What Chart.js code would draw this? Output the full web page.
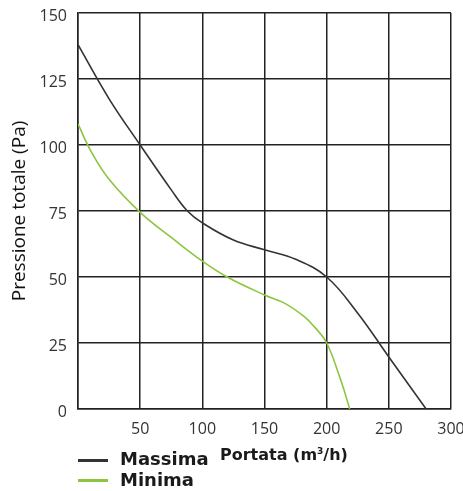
<!DOCTYPE html>
<html>
<head>
<meta charset="utf-8">
<script src="https://cdn.jsdelivr.net/npm/chart.js@4"></script>
<style>
body { margin: 0; background: #fff; }
#wrap { position: relative; width: 463px; height: 491px; overflow: hidden; }
.xtitle { position: absolute; left: 220px; top: 447px; font: bold 16px 'DejaVu Sans', sans-serif; line-height: 16px; color: #1a1a1a; white-space: nowrap; }
.xtitle sup { font-size: 9px; vertical-align: 6px; line-height: 0; }
.leg { position: absolute; left: 120px; font: bold 18px 'DejaVu Sans', sans-serif; line-height: 18px; color: #1a1a1a; }
.linea { position: absolute; left: 78px; width: 30px; height: 3px; }
</style>
</head>
<body>
<div id="wrap">
  <canvas id="grafico" width="463" height="491"></canvas>
  <div class="xtitle">Portata (m<sup>3</sup>/h)</div>
  <div class="linea" style="top:459px;background:#333"></div>
  <div class="leg" style="top:450px">Massima</div>
  <div class="linea" style="top:479px;background:#8cc63f"></div>
  <div class="leg" style="top:471px">Minima</div>
</div>
<script>
const massimaX = [0, 25, 50, 75, 88, 100, 125, 150, 175, 200, 225, 250, 280];
const massimaY = [138, 117.5, 100, 83, 75, 70.5, 64, 60.3, 56.7, 50, 36.3, 19.7, 0];
const minimaX = [0, 10, 25, 50, 75, 100, 120, 150, 166, 182, 190, 200, 210, 215, 218.5];
const minimaY = [108, 98, 87, 74.5, 65, 56, 50, 43.2, 40.1, 35, 31.2, 25, 12.8, 5.6, 0];

function punti(xs, ys) {
    return xs.map((x, i) => ({ x, y: ys[i] }));
}

function senzaMargini(s) {
    s.paddingTop = 0;
    s.paddingBottom = 0;
    s.paddingLeft = 0;
    s.paddingRight = 0;
}

const ctx = document.getElementById('grafico').getContext('2d');

new Chart(ctx, {
    type: 'scatter',
    data: {
        datasets: [
            {
                label: 'Massima',
                data: punti(massimaX, massimaY),
                showLine: true,
                borderColor: '#333',
                borderWidth: 1.6,
                pointRadius: 0,
                tension: 0.4
            },
            {
                label: 'Minima',
                data: punti(minimaX, minimaY),
                showLine: true,
                borderColor: '#8cc63f',
                borderWidth: 1.6,
                pointRadius: 0,
                tension: 0.4
            }
        ]
    },
    options: {
        responsive: false,
        animation: false,
        layout: { padding: { top: 13, right: 12, left: 0, bottom: 0 } },
        plugins: { legend: { display: false }, tooltip: { enabled: false } },
        scales: {
            x: {
                type: 'linear',
                min: 0,
                max: 300,
                afterFit: s => { s.height = 82; senzaMargini(s); },
                grid: { color: '#222', lineWidth: 1.5, drawTicks: false },
                border: { color: '#222', width: 1.5 },
                ticks: {
                    stepSize: 50,
                    padding: 11,
                    maxRotation: 0,
                    color: '#333',
                    font: { family: 'Open Sans', size: 16 },
                    callback: v => v === 0 ? '' : v
                }
            },
            y: {
                min: 0,
                max: 150,
                afterFit: s => { s.width = 78; senzaMargini(s); },
                grid: { color: '#222', lineWidth: 1.5, drawTicks: false },
                border: { color: '#222', width: 1.5 },
                title: {
                    display: true,
                    text: 'Pressione totale (Pa)',
                    color: '#111',
                    font: { family: 'Open Sans', size: 19 },
                    padding: { top: 8, bottom: 0 }
                },
                ticks: {
                    stepSize: 25,
                    padding: 11,
                    labelOffset: 3,
                    color: '#333',
                    font: { family: 'Open Sans', size: 16 }
                }
            }
        }
    }
});
</script>
</body>
</html>
